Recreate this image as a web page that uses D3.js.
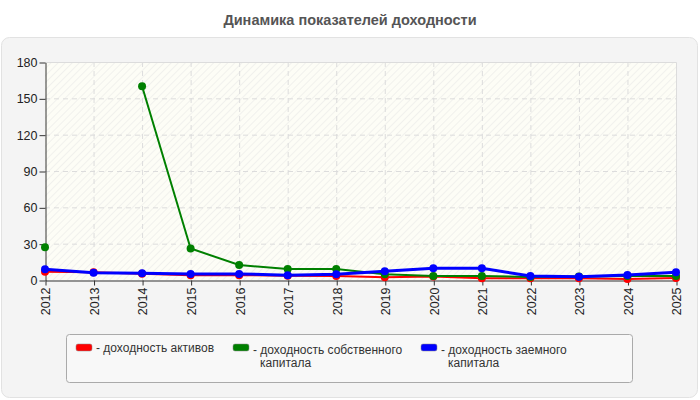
<!DOCTYPE html>
<html>
<head>
<meta charset="utf-8">
<script src="https://cdn.jsdelivr.net/npm/d3@7"></script>
<style>
  body { margin: 0; background: #fff; }
  svg { display: block; font-family: "Liberation Sans", Arial, sans-serif; }
</style>
</head>
<body>
<svg id="chart" width="700" height="400"></svg>
<script>
var years = [2012, 2013, 2014, 2015, 2016, 2017, 2018, 2019, 2020, 2021, 2022, 2023, 2024, 2025];
var yTicks = [0, 30, 60, 90, 120, 150, 180];

// null = no value for that year
var roa    = [6.9, 6.3, 5.2, 4.0, 4.0, 3.6, 3.3, 2.2, 2.8, 1.4, 1.4, 1.4, 0.8, 1.6];
var roe    = [27, null, 160, 26, 12.4, 9, 9, 4.7, 3.3, 3.3, 2.5, 2.9, 3.3, 3.3];
var rodebt = [8.8, 6.0, 5.5, 5.0, 5.0, 4.0, 4.7, 7.2, 9.6, 9.6, 3.3, 2.7, 4.1, 6.3];

var seriesNames  = ["- доходность активов", "- доходность собственного\nкапитала", "- доходность заемного\nкапитала"];
var seriesColors = ["#ff0000", "#008000", "#0000ff"];

var svg = d3.select("#chart")
  , pLeft = 45, pRight = 676, pTop = 62, pBottom = 280;

svg.append("text")
  .attr("x", 350).attr("y", 25)
  .attr("text-anchor", "middle")
  .style("font-size", "14.5px").style("font-weight", "bold")
  .attr("fill", "#555")
  .text("Динамика показателей доходности");

svg.append("rect")
  .attr("x", 1.5).attr("y", 37.5).attr("width", 696).attr("height", 360)
  .attr("rx", 8)
  .attr("fill", "#f4f4f4").attr("stroke", "#e2e2e2");

var defs = svg.append("defs");
var pat = defs.append("pattern")
  .attr("id", "hatch").attr("patternUnits", "userSpaceOnUse")
  .attr("width", 5).attr("height", 5)
  .attr("patternTransform", "rotate(45)");
pat.append("rect").attr("width", 5).attr("height", 5).attr("fill", "#fdfdf6");
pat.append("line").attr("x1", 0).attr("y1", 0).attr("x2", 0).attr("y2", 5)
  .attr("stroke", "#eeeeea").attr("stroke-width", 1.5);

var x = d3.scalePoint().domain(years).range([pLeft, pRight]);
var y = d3.scaleLinear().domain([0, 180]).range([pBottom, pTop]);

svg.append("rect")
  .attr("x", pLeft).attr("y", pTop).attr("width", pRight - pLeft).attr("height", pBottom - pTop)
  .attr("fill", "url(#hatch)");

// grid
svg.append("g").selectAll("line").data(yTicks.slice(1, -1)).join("line")
  .attr("x1", pLeft).attr("x2", pRight)
  .attr("y1", function (d) { return y(d) + 0.5; }).attr("y2", function (d) { return y(d) + 0.5; })
  .attr("stroke", "#dcdcdc").attr("stroke-dasharray", "5,4");
svg.append("g").selectAll("line").data(years.slice(1, -1)).join("line")
  .attr("x1", function (d) { return x(d) + 0.5; }).attr("x2", function (d) { return x(d) + 0.5; })
  .attr("y1", pTop).attr("y2", pBottom)
  .attr("stroke", "#dcdcdc").attr("stroke-dasharray", "5,4");

// plot frame top/right
svg.append("path")
  .attr("d", "M" + pLeft + "," + (pTop + 0.5) + "H" + (pRight + 0.5) + "V" + pBottom)
  .attr("fill", "none").attr("stroke", "#dcdcdc");

var yAxis = svg.append("g")
  .attr("transform", "translate(" + (pLeft + 0.5) + ",0.5)")
  .call(d3.axisLeft(y).tickValues(yTicks).tickSize(6).tickSizeOuter(0));
var xAxis = svg.append("g")
  .attr("transform", "translate(0.5," + (pBottom + 0.5) + ")")
  .call(d3.axisBottom(x).tickSize(5).tickSizeOuter(0));

[yAxis, xAxis].forEach(function (a) {
  a.select(".domain").attr("stroke", "#333");
  a.selectAll(".tick line").attr("stroke", "#333");
  a.selectAll("text").attr("fill", "#222").style("font-size", "12.5px")
    .style("font-family", "'Liberation Sans', Arial, sans-serif");
});
yAxis.selectAll("text").attr("x", -8);
xAxis.selectAll("text")
  .attr("transform", "rotate(-90)")
  .attr("text-anchor", "end")
  .attr("x", -7).attr("y", 0).attr("dy", "0.35em");

var data = [roa, roe, rodebt];
var line = d3.line()
  .defined(function (d) { return d != null; })
  .x(function (d, i) { return x(years[i]); })
  .y(function (d) { return y(d); });

data.forEach(function (vals, k) {
  var g = svg.append("g");
  g.append("path")
    .attr("d", line(vals))
    .attr("fill", "none")
    .attr("stroke", seriesColors[k])
    .attr("stroke-width", k == 2 ? 3 : 2);
  g.selectAll("circle")
    .data(vals.map(function (v, i) { return {v: v, i: i}; }).filter(function (d) { return d.v != null; }))
    .join("circle")
    .attr("cx", function (d) { return x(years[d.i]); })
    .attr("cy", function (d) { return y(d.v); })
    .attr("r", 4)
    .attr("fill", seriesColors[k]);
});

// legend
svg.append("rect")
  .attr("x", 66.5).attr("y", 334.5).attr("width", 566).attr("height", 48)
  .attr("rx", 3)
  .attr("fill", "#f8f8f8").attr("stroke", "#aaa");

var legendX = [76, 233, 421];
seriesNames.forEach(function (name, k) {
  svg.append("rect")
    .attr("x", legendX[k]).attr("y", 344).attr("width", 16).attr("height", 7)
    .attr("rx", 2)
    .attr("fill", seriesColors[k]).attr("stroke", "#888").attr("stroke-width", 0.5);
  var t = svg.append("text")
    .attr("x", legendX[k] + 20).attr("y", 352)
    .attr("fill", "#333").style("font-size", "12px");
  name.split("\n").forEach(function (s, j) {
    t.append("tspan")
      .attr("x", j == 0 ? legendX[k] + 20 : legendX[k] + 27)
      .attr("dy", j == 0 ? (k == 0 ? 0 : 2) : 13)
      .text(s);
  });
});
</script>
</body>
</html>
